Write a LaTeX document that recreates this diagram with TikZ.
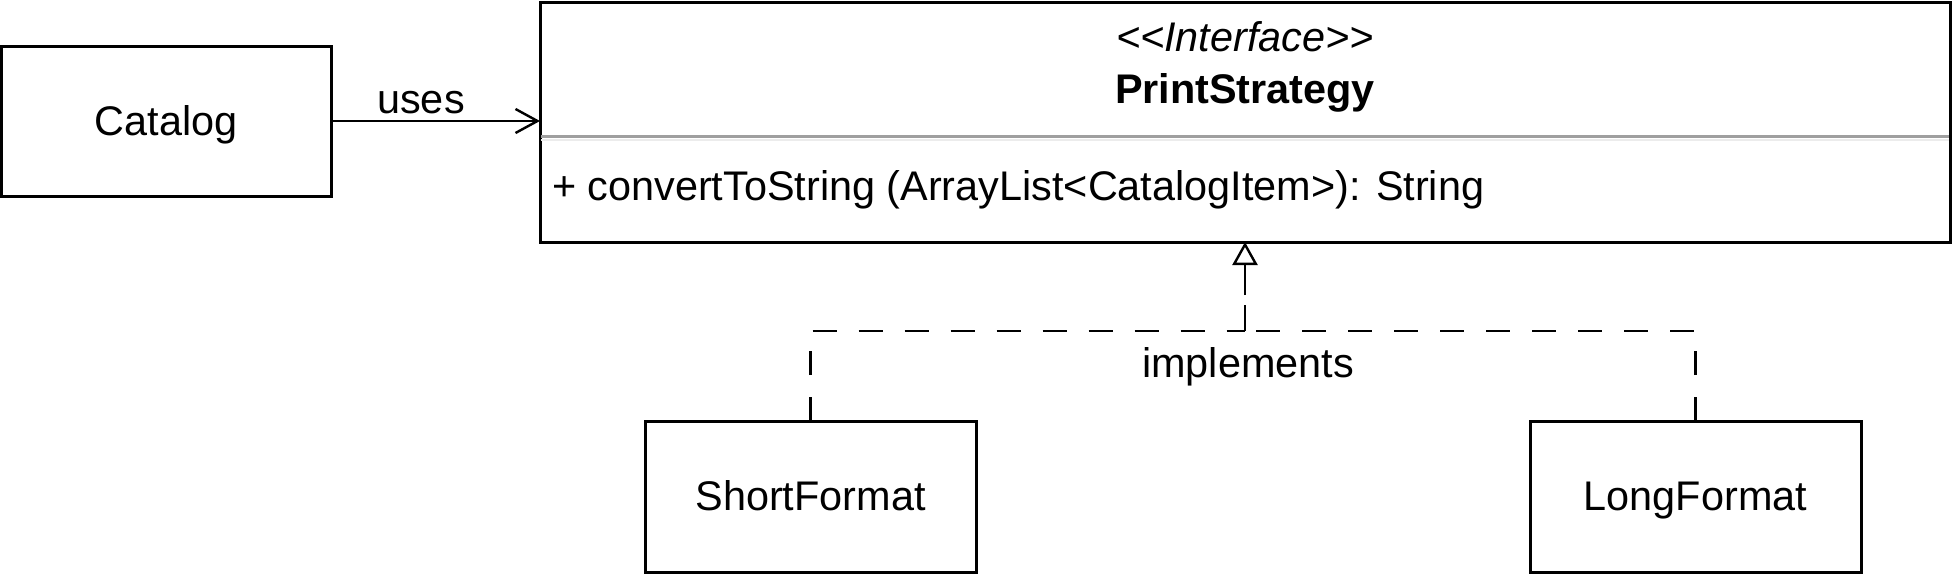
\documentclass[tikz,border=0pt]{standalone}
\usepackage{fontspec}
\setmainfont{Liberation Sans}
\usetikzlibrary{arrows.meta}
\begin{document}
\begin{tikzpicture}[x=0.5pt,y=-0.5pt,
  every node/.style={font=\fontsize{20.7}{24}\selectfont, inner sep=0pt, outer sep=0pt},
  classbox/.style={draw, line width=1.5pt, fill=white},
  lbl/.style={anchor=base},
  usesedge/.style={line width=1.2pt, -{Straight Barb[length=11pt,width=12pt,line width=1.2pt]}},
  impledge/.style={line width=1.2pt, dash pattern=on 12pt off 11pt},
  implhead/.style={line width=1.2pt, dash pattern=on 13pt off 5pt on 40pt, -{Triangle[open,length=11.5pt,width=12.5pt,fill=white,line width=1.2pt]}}
]
\useasboundingbox (0,0) rectangle (1953,573);
% boxes
\node[classbox, minimum width=164.75pt, minimum height=75pt] (cat) at (166.25,121) {};
\node[lbl] at (166.25,135) {Catalog};
\node[classbox, minimum width=705pt, minimum height=120pt] (ps) at (1245,122) {};
\node[lbl] (st) at (1245,51) {\itshape <{}<Interface>{}>};
\node[lbl] (pn) at (1245,103) {\bfseries PrintStrategy};
\draw[color=gray!75, line width=1.5pt] (541,136) -- (1949,136);
\draw[color=gray!15, line width=1pt] (541,139.5) -- (1949,139.5);
\node[lbl, anchor=base west] (m) at (552,200) {+ convertToString (ArrayList<CatalogItem>): String};
\node[classbox, minimum width=165.5pt, minimum height=75.5pt] (sf) at (810.5,496.5) {};
\node[lbl] at (810.5,510) {ShortFormat};
\node[classbox, minimum width=165.5pt, minimum height=75.5pt] (lf) at (1695.5,496.5) {};
\node[lbl] at (1695.5,510) {LongFormat};
% connectors
\draw[usesedge] (cat.east) -- (cat.east -| ps.west);
\node[lbl] (u) at (421,113) {uses};
\coordinate (j) at (1245,331);
\draw[impledge] (sf.north) |- (j);
\draw[impledge] (lf.north) |- (j);
\draw[implhead] (j) -- (ps.south);
\node[lbl] (impl) at (1248,377) {implements};
\end{tikzpicture}
\end{document}
